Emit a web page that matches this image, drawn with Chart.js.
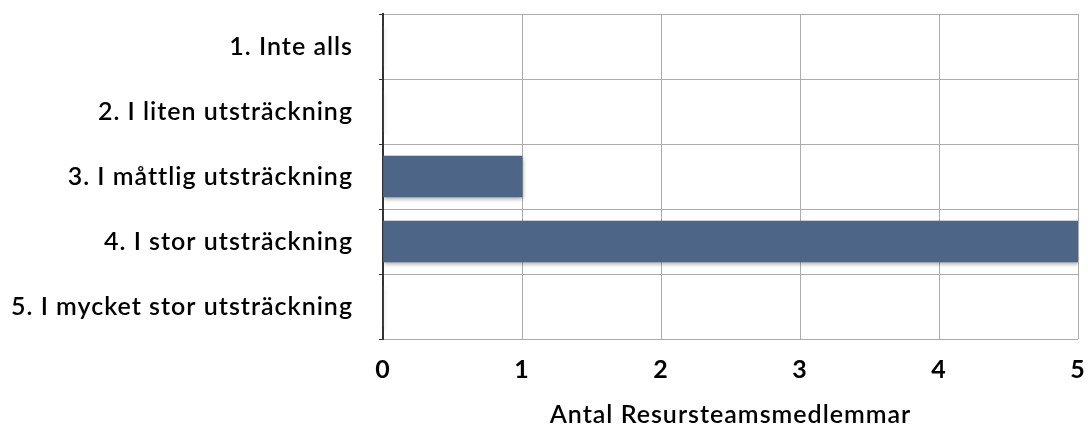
<!DOCTYPE html>
<html>
<head>
<meta charset="utf-8">
<script src="https://cdn.jsdelivr.net/npm/chart.js@4"></script>
<style>
  html, body { margin: 0; padding: 0; background: #fff; }
  #wrap { width: 1088px; height: 430px; }
</style>
</head>
<body>
<div id="wrap"><canvas id="chart" width="1088" height="430"></canvas></div>
<script>
// data
const categories = [
  '1. Inte alls',
  '2. I liten utsträckning',
  '3. I måttlig utsträckning',
  '4. I stor utsträckning',
  '5. I mycket stor utsträckning'
];
const members = [0, 0, 1, 5, 0];
const xTicks = [0, 1, 2, 3, 4, 5];
const xTitle = 'Antal Resursteamsmedlemmar';

// wider letter spacing, closer to the original Gill Sans look
const spacing = {
  id: 'spacing',
  beforeInit(chart) { chart.ctx.letterSpacing = '1px'; },
  beforeLayout(chart) { chart.ctx.letterSpacing = '1px'; }
};

// soft drop shadow under the bars
const barShadow = {
  id: 'barShadow',
  beforeDatasetsDraw(chart) {
    const c = chart.ctx;
    c.save();
    c.shadowColor = 'rgba(0,0,0,0.35)';
    c.shadowBlur = 4;
    c.shadowOffsetX = 1;
    c.shadowOffsetY = 2;
  },
  afterDatasetsDraw(chart) {
    chart.ctx.restore();
  }
};

const font = "Lato, 'Open Sans', sans-serif";

new Chart(document.getElementById('chart').getContext('2d'), {
  type: 'bar',
  data: {
    labels: categories,
    datasets: [{
      data: members,
      backgroundColor: '#4d6688',
      borderWidth: 0,
      barThickness: 41
    }]
  },
  options: {
    indexAxis: 'y',
    responsive: false,
    animation: false,
    layout: { padding: { top: 14, right: 10, left: 0, bottom: 0 } },
    plugins: {
      legend: { display: false },
      tooltip: { enabled: false }
    },
    scales: {
      x: {
        min: 0,
        max: 5,
        afterBuildTicks: s => { s.ticks = xTicks.map(v => ({ value: v })); },
        grid: { color: '#acacac', lineWidth: 1, drawTicks: false },
        border: { display: false },
        ticks: {
          color: '#000',
          padding: 16,
          font: { family: font, size: 25, weight: 'bold' }
        },
        title: {
          display: true,
          text: xTitle,
          color: '#000',
          padding: { top: 10, bottom: 0 },
          font: { family: font, size: 25, weight: '600' }
        },
        afterFit: s => { s.height = 91; s.paddingLeft = 0; s.paddingRight = 0; }
      },
      y: {
        grid: {
          color: '#acacac',
          lineWidth: 1,
          offset: true,
          tickLength: 4,
          tickColor: '#333'
        },
        border: { display: true, color: '#333', width: 2 },
        ticks: {
          color: '#000',
          padding: 26,
          font: { family: font, size: 25, weight: '600' }
        },
        afterFit: s => { s.width = 383; s.paddingTop = 0; s.paddingBottom = 0; }
      }
    }
  },
  plugins: [spacing, barShadow]
});
</script>
</body>
</html>
